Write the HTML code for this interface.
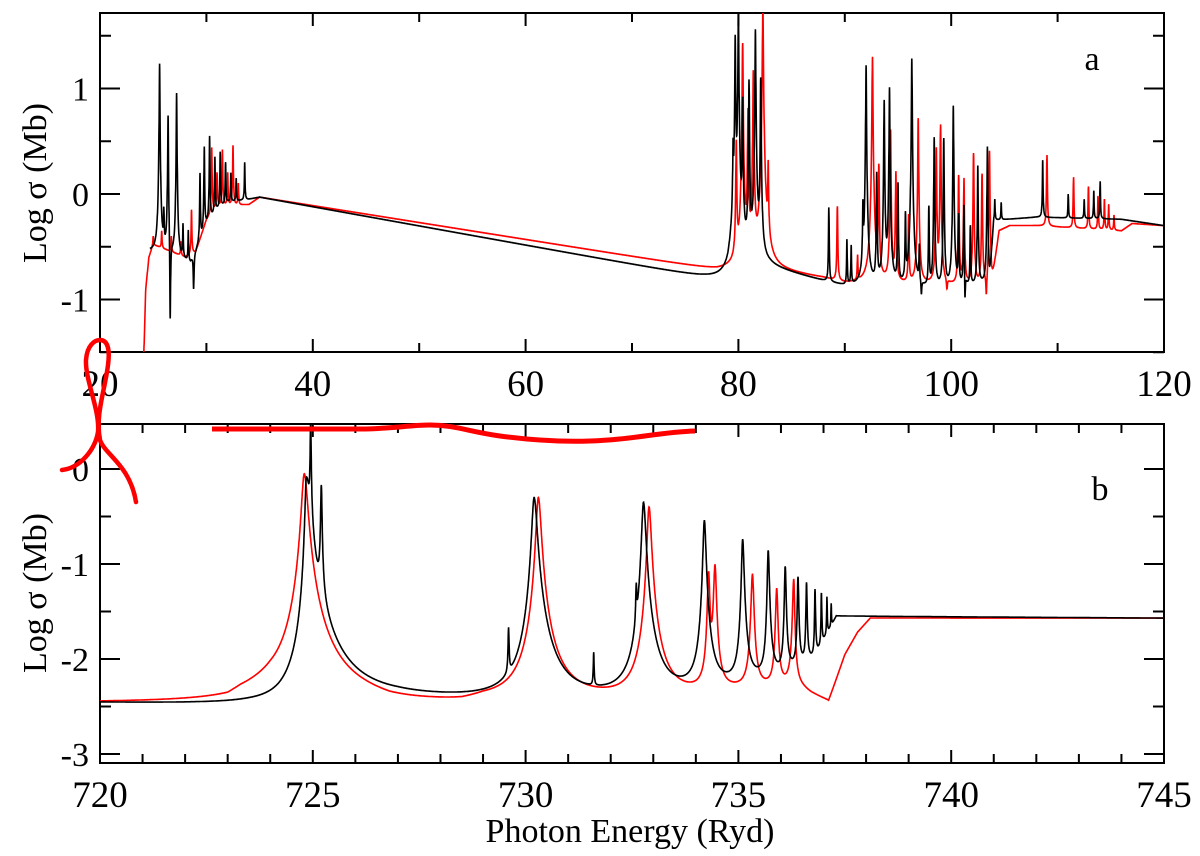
<!DOCTYPE html>
<html><head><meta charset="utf-8"><style>
html,body{margin:0;padding:0;background:#fff;}
svg{display:block;font-family:"Liberation Serif",serif;}
</style></head><body>
<svg id="chart" width="1200" height="856" viewBox="0 0 1200 856" xmlns="http://www.w3.org/2000/svg">
<defs>
<clipPath id="clipA"><rect x="100" y="13" width="1064" height="339"/></clipPath>
<clipPath id="clipB"><rect x="100" y="424" width="1064" height="339"/></clipPath>
</defs>
<g id="panelA"></g>
<g id="panelB"></g>
<text x="1092" y="70" font-size="34" text-anchor="middle">a</text>
<text x="1100" y="500" font-size="34" text-anchor="middle">b</text>
<text transform="translate(46,183) rotate(-90)" font-size="34" text-anchor="middle">Log σ (Mb)</text>
<text transform="translate(46,593) rotate(-90)" font-size="34" text-anchor="middle">Log σ (Mb)</text>
<text x="630" y="842" font-size="34" text-anchor="middle">Photon Energy (Ryd)</text>
<path d="M62,470 C80,468 95,450 98,432 C100,410 85,380 86,360 C87,345 95,340 100,340 C108,340 110,350 108,365 C105,390 95,415 100,440 C105,455 130,465 136,502" fill="none" stroke="#f00" stroke-width="4.5" stroke-linecap="round"/>
<path d="M212,429 L360,429 C390,429 410,425 430,425 C455,425 470,432 500,436 C530,440 560,442 590,441 C630,440 660,432 695,431" fill="none" stroke="#f00" stroke-width="5"/>
</svg>
<script>
// ---- Panel a data ----
const aXTicks = [20, 40, 60, 80, 100, 120];
const aYTicks = [1, 0, -1];
const aBlackBase = [[24.7,-0.55],[26,-0.58],[28.5,-0.66],[29,-0.55],[30,-0.3],[31,-0.15],[32,-0.08],[34,-0.05],[35,-0.03],[79,-0.83],[79.5,-0.7],[83,-0.7],[88,-0.83],[90,-0.88],[96,-0.92],[100,-0.92],[103.6,-0.85],[104,-0.25],[108,-0.22],[116,-0.24],[120,-0.3]];
const aBlackPeaks = [[25.6,1.24],[26.4,0.84],[27.2,0.97],[26.0,-0.2],[27.8,-0.3],[28.3,-0.35],[29.4,0.2],[29.8,0.45],[30.3,0.55],[30.8,0.35],[31.3,0.4],[31.8,0.3],[32.3,0.2],[32.8,0.15],[33.6,0.3],
  [79.5,0.4],[79.7,1.5],[80.0,1.75],[80.4,0.9],[81.0,1.08],[81.6,1.56],[82.1,1.1],
  [88.5,-0.13],[90.2,-0.44],[90.6,-0.5],[91.7,-0.14],[92.0,1.22],[93.0,0.2],[93.7,0.89],[94.2,1.01],[95.0,0.1],[95.7,-0.2],[96.3,1.29],[97.0,-0.5],[97.9,-0.12],[98.4,0.54],[99.3,0.53],[100.2,0.84],[100.7,-0.2],[101.2,0.07],[101.8,-0.3],[102.5,0.27],[103.4,0.45],[104.1,-0.05],[104.7,-0.08],[108.6,0.32],[111.0,0.0],[112.5,-0.05],[113.4,0.03],[114.0,0.12],[116.0,-0.25]];
const aBlackDips = [[26.6,-1.18],[28.8,-0.9],[97.2,-0.95],[101.3,-0.98]];
const aRedBase = [[24.1,-1.6],[24.3,-0.9],[24.6,-0.6],[25,-0.48],[28,-0.6],[29,-0.55],[30,-0.25],[31,-0.12],[34,-0.1],[35,-0.03],[78,-0.72],[79,-0.72],[83,-0.72],[88,-0.8],[90,-0.85],[103.8,-0.88],[104.5,-0.35],[105.5,-0.3],[108,-0.3],[116,-0.35],[117,-0.28],[120,-0.3]];
const aRedPeaks = [[25.0,-0.4],[25.8,-0.35],[26.7,-0.4],[27.6,-0.45],[28.6,-0.15],[30.5,0.44],[31.0,0.2],[31.5,0.42],[32.0,0.2],[32.5,0.46],[33.0,0.1],
  [79.8,0.5],[80.4,1.43],[80.9,0.8],[81.4,1.17],[82.3,1.8],[82.8,0.25],
  [89.3,-0.12],[91.2,-0.6],[92.6,1.3],[93.2,0.27],[94.3,0.61],[94.8,0.21],[96.0,-0.2],[96.9,0.72],[98.6,0.44],[99.0,0.67],[100.7,0.18],[101.2,0.15],[102.1,0.39],[102.9,0.21],[103.6,0.45],[109.0,0.37],[111.5,0.16],[112.9,0.07],[113.8,-0.02],[114.4,-0.05],[114.8,-0.1],[115.3,-0.2]];
const aRedDips = [[103.3,-0.95],[99.6,-0.9]];
// ---- Panel b data: [energy, peak log value, left width, right width] ----
const bXTicks = [720, 725, 730, 735, 740, 745];
const bYTicks = [0, -1, -2, -3];
const bBlackBase = [[720,-2.46],[723.5,-2.48],[724.2,-2.49],[725.5,-2.46],[727,-2.44],[729,-2.45],[731,-2.46],[733,-2.43],[734,-2.38],[735,-2.3],[736,-2.2],[736.8,-2.0],[737.3,-1.55],[745,-1.57]];
const bBlackPeaks = [[724.85,-0.1,0.03,0.085],[724.95,0.47,0.01,0.01],[725.2,-0.2,0.015,0.015],[729.6,-1.75,0.012,0.012],[730.2,-0.3,0.05,0.065],[731.6,-2.0,0.01,0.01],[732.6,-1.4,0.012,0.012],[732.77,-0.35,0.04,0.05],[734.2,-0.54,0.03,0.035],[735.1,-0.74,0.025,0.03],[735.7,-0.86,0.02,0.025],[736.1,-1.03,0.018,0.02],[736.4,-1.14,0.015,0.017],[736.6,-1.2,0.012,0.014],[736.8,-1.27,0.01,0.012],[736.95,-1.3,0.008,0.01],[737.08,-1.35,0.007,0.008],[737.18,-1.42,0.006,0.007]];
const bRedBase = [[720,-2.46],[723,-2.46],[723.3,-2.4],[724,-2.33],[726.2,-2.45],[726.8,-2.49],[728.5,-2.49],[729,-2.45],[733,-2.44],[734,-2.4],[735,-2.35],[736.4,-2.3],[736.7,-2.38],[737.12,-2.46],[737.5,-1.96],[737.8,-1.72],[738.1,-1.57],[745,-1.57]];
const bRedPeaks = [[724.8,-0.05,0.06,0.075],[730.3,-0.3,0.05,0.06],[732.9,-0.4,0.04,0.05],[734.3,-1.1,0.025,0.025],[734.45,-1.02,0.03,0.03],[735.33,-1.11,0.03,0.03],[735.9,-1.26,0.025,0.025],[736.3,-1.16,0.025,0.02]];

// ---- scales ----
const ax = e => 100 + (e - 20) * 10.64;
const ay = v => 194 - v * 105.5;
const bx = e => 100 + (e - 720) * 42.56;
const by = v => 469 - v * 95;
const NS = 'http://www.w3.org/2000/svg';
function mk(tag, attrs, parent){const el=document.createElementNS(NS,tag);for(const k in attrs)el.setAttribute(k,attrs[k]);parent.appendChild(el);return el;}
function interp(base,e){
  if(e<=base[0][0])return base[0][1];
  for(let i=1;i<base.length;i++){if(e<=base[i][0]){const [x0,y0]=base[i-1],[x1,y1]=base[i];return y0+(y1-y0)*(e-x0)/(x1-x0);}}
  return base[base.length-1][1];
}
function curve(base,peaks,dips,e0,e1,step,wDef){
  const pts=[];
  for(let e=e0;e<=e1+1e-9;e+=step){
    const b=interp(base,e);let s=Math.pow(10,b);
    for(const p of peaks){const w=(e<p[0]?p[2]:p[3])||wDef;const d=(e-p[0])/w;s+=Math.max(0,Math.pow(10,p[1])-Math.pow(10,b))/(1+d*d);}
    let v=Math.log10(s);
    for(const q of dips){const w=wDef*1.5;const d=(e-q[0])/w;v-=Math.max(0,v-q[1])/(1+d*d);}
    pts.push([e,v]);
  }
  return pts;
}
function path(pts,fx,fy){return pts.map((p,i)=>(i?'L':'M')+fx(p[0]).toFixed(1)+','+fy(p[1]).toFixed(1)).join('');}

function axes(g,x0,x1,y0,y1,xt,xminor,yt,yminor,fx,fy,xl,xr,yb,yt2,name){
  const fr=mk('rect',{x:x0,y:y0,width:x1-x0,height:y1-y0,fill:'none',stroke:'#000','stroke-width':2},g);
  
  
  let d='';
  for(let e=xl;e<=xr+1e-9;e+=xminor){const X=fx(e);const major=xt.some(t=>Math.abs(t-e)<1e-6);const L=major?13:9;d+=`M${X},${y1}v${-L}M${X},${y0}v${L}`;}
  for(let v=yb;v<=yt2+1e-9;v+=yminor){const Y=fy(v);const major=yt.some(t=>Math.abs(t-v)<1e-6);const L=major?20:11;d+=`M${x0},${Y}h${L}M${x1},${Y}h${-L}`;}
  const tk=mk('path',{d:d,stroke:'#000','stroke-width':2,fill:'none'},g);
  
  
}
const gA=document.getElementById('panelA'), gB=document.getElementById('panelB');
axes(gA,100,1164,13,352,aXTicks,10,aYTicks,0.5,ax,ay,20,120,-1.5,1.5,'panel-a');
axes(gB,100,1164,424,763,bXTicks,1,bYTicks,0.5,bx,by,720,745,-3,0,'panel-b');
aXTicks.forEach(t=>{const el=mk('text',{x:ax(t),y:396,'font-size':37,'text-anchor':'middle'},gA);el.textContent=t;

});
aYTicks.forEach(t=>{const el=mk('text',{x:89,y:ay(t)+12,'font-size':34,'text-anchor':'end'},gA);el.textContent=t;

});
bXTicks.forEach(t=>{const el=mk('text',{x:bx(t),y:807,'font-size':37,'text-anchor':'middle'},gB);el.textContent=t;

});
bYTicks.forEach(t=>{const el=mk('text',{x:89,y:by(t)+12,'font-size':34,'text-anchor':'end'},gB);el.textContent=t;

});

const la=mk('g',{'clip-path':'url(#clipA)'},gA);
const lb=mk('g',{'clip-path':'url(#clipB)'},gB);
const s1=mk('path',{d:path(curve(aRedBase,aRedPeaks,aRedDips,24.1,120,0.01,0.035),ax,ay),fill:'none',stroke:'#f00','stroke-width':1.6},la);


const s2=mk('path',{d:path(curve(aBlackBase,aBlackPeaks,aBlackDips,24.7,120,0.01,0.03),ax,ay),fill:'none',stroke:'#000','stroke-width':1.6},la);


const s3=mk('path',{d:path(curve(bRedBase,bRedPeaks,[],720,745,0.004,0.08),bx,by),fill:'none',stroke:'#f00','stroke-width':1.6},lb);


const s4=mk('path',{d:path(curve(bBlackBase,bBlackPeaks,[],720,745,0.004,0.08),bx,by),fill:'none',stroke:'#000','stroke-width':1.6},lb);


</script>
</body></html>
